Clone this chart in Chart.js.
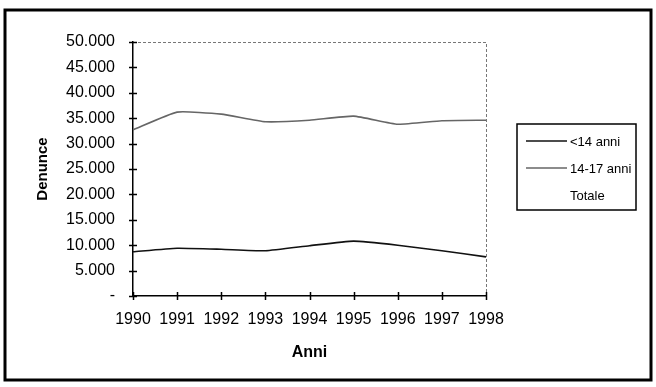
<!DOCTYPE html>
<html lang="it">
<head>
<meta charset="utf-8">
<title>Denunce per anno</title>
<script src="https://cdn.jsdelivr.net/npm/chart.js@4.4.1/dist/chart.umd.min.js"></script>
<style>
  html, body { margin: 0; padding: 0; background: #fff; }
  #wrap { position: relative; width: 656px; height: 387px; }
</style>
</head>
<body>
<div id="wrap"><canvas id="denunceChart" width="656" height="387"></canvas></div>
<script>
// Anni e denunce per fascia d'età
const anni = ['1990', '1991', '1992', '1993', '1994', '1995', '1996', '1997', '1998'];
const sotto14 = [8700, 9400, 9200, 8900, 9900, 10800, 10000, 8900, 7700];
const da14a17 = [32700, 36200, 35800, 34300, 34600, 35400, 33800, 34500, 34600];
const totale = [];
const yMax = 50000;
const yStep = 5000;

function formatIt(v) {
  if (v === 0) return '-';
  return String(v).replace(/\B(?=(\d{3})+(?!\d))/g, '.');
}

(function () {
  function initChart() {
    if (typeof Chart === 'undefined') return;

    const fam = '"Liberation Sans", Arial, sans-serif';

    // cornice esterna, croci sugli assi, bordo del grafico e legenda in riquadro
    const decor = {
      id: 'decor',
      beforeDraw(chart) {
        const c = chart.ctx;
        c.save();
        c.fillStyle = '#fff';
        c.fillRect(0, 0, chart.width, chart.height);
        c.strokeStyle = '#000';
        c.lineWidth = 3;
        c.strokeRect(5, 10, 646, 370);
        c.restore();
      },
      afterDraw(chart) {
        const c = chart.ctx;
        const a = chart.chartArea;
        const xs = chart.scales.x, ys = chart.scales.y;
        c.save();

        // bordo tratteggiato in alto e a destra
        c.strokeStyle = '#777';
        c.lineWidth = 1;
        c.setLineDash([3, 2]);
        c.beginPath();
        c.moveTo(a.left, a.top + 0.5);
        c.lineTo(a.right + 0.5, a.top + 0.5);
        c.lineTo(a.right + 0.5, a.bottom);
        c.stroke();
        c.setLineDash([]);

        // tacche a croce
        c.strokeStyle = '#000';
        c.lineWidth = 1.5;
        c.beginPath();
        ys.ticks.forEach((t, i) => {
          const y = Math.round(ys.getPixelForTick(i)) + 0.5;
          c.moveTo(a.left - 4, y);
          c.lineTo(a.left + 4, y);
        });
        xs.ticks.forEach((t, i) => {
          const x = Math.round(xs.getPixelForTick(i)) + 0.5;
          c.moveTo(x, a.bottom - 4);
          c.lineTo(x, a.bottom + 4);
        });
        c.stroke();

        // legenda
        const box = { x: 517, y: 124, w: 119, h: 86 };
        c.lineWidth = 1.5;
        c.strokeRect(box.x, box.y, box.w, box.h);
        c.font = '13px ' + fam;
        c.textBaseline = 'middle';
        c.fillStyle = '#000';
        chart.data.datasets.forEach((ds, i) => {
          const y = box.y + 17 + i * 27;
          if (ds.borderColor !== 'rgba(0,0,0,0)') {
            c.strokeStyle = ds.borderColor;
            c.lineWidth = ds.borderWidth;
            c.beginPath();
            c.moveTo(box.x + 9, y);
            c.lineTo(box.x + 50, y);
            c.stroke();
          }
          c.fillText(ds.label, box.x + 53, y + 1);
        });
        c.restore();
      }
    };

    const tickFont = { family: fam, size: 16 };

    new Chart(document.getElementById('denunceChart').getContext('2d'), {
      type: 'line',
      data: {
        labels: anni,
        datasets: [
          {
            label: '<14 anni',
            data: sotto14,
            borderColor: '#111',
            borderWidth: 1.6,
            pointRadius: 0,
            tension: 0.15,
            fill: false
          },
          {
            label: '14-17 anni',
            data: da14a17,
            borderColor: '#666',
            borderWidth: 1.6,
            pointRadius: 0,
            tension: 0.15,
            fill: false
          },
          {
            label: 'Totale',
            data: totale,
            borderColor: 'rgba(0,0,0,0)',
            borderWidth: 0,
            pointRadius: 0,
            fill: false
          }
        ]
      },
      options: {
        responsive: false,
        animation: false,
        devicePixelRatio: 1,
        layout: { padding: { left: 0, right: 170, top: 42, bottom: 0 } },
        plugins: {
          legend: { display: false },
          tooltip: { enabled: false }
        },
        scales: {
          x: {
            offset: false,
            grid: { display: false },
            border: { display: true, color: '#000', width: 1.5 },
            ticks: { color: '#000', font: tickFont, padding: 6, maxRotation: 0, autoSkip: false },
            title: {
              display: true,
              text: 'Anni',
              color: '#000',
              font: { family: fam, size: 16, weight: 'bold' },
              padding: { top: 0, bottom: 25 }
            },
            afterFit(scale) { scale.height = 91; }
          },
          y: {
            min: 0,
            max: yMax,
            grid: { display: false },
            border: { display: true, color: '#000', width: 1.5 },
            ticks: {
              stepSize: yStep,
              color: '#000',
              font: tickFont,
              padding: 10,
              callback: (v) => formatIt(v)
            },
            title: {
              display: true,
              text: 'Denunce',
              color: '#000',
              font: { family: fam, size: 15, weight: 'bold' },
              padding: { top: 34, bottom: 0 }
            },
            afterFit(scale) { scale.width = 133; }
          }
        }
      },
      plugins: [decor]
    });
  }

  if (document.readyState === 'loading') {
    document.addEventListener('DOMContentLoaded', initChart);
  } else {
    initChart();
  }
})();
</script>
</body>
</html>
